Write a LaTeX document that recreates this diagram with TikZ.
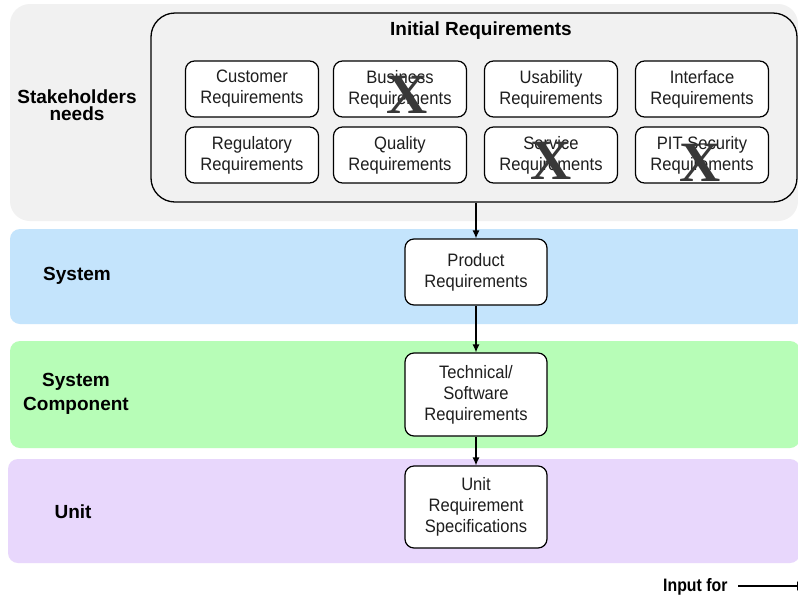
\documentclass[tikz,border=0pt]{standalone}
\usepackage{fontspec}
\setmainfont{Liberation Sans}
\newfontfamily\boxfont[FakeStretch=0.92]{Liberation Sans}
\newfontfamily\condfont[FakeStretch=0.88]{Liberation Sans}
\newfontfamily\xfont{Liberation Serif}
\usetikzlibrary{arrows.meta}
\definecolor{graybg}{HTML}{F1F1F1}
\definecolor{bluebg}{HTML}{C4E4FC}
\definecolor{greenbg}{HTML}{B7FDB7}
\definecolor{purplebg}{HTML}{E8D7FC}
\definecolor{xcol}{HTML}{383838}
\definecolor{textcol}{HTML}{1E1E1E}
\tikzset{
  reqbox/.style={draw=black, line width=1.2pt, rounded corners=9pt, fill=white,
    minimum width=133pt, minimum height=56pt, align=center, inner sep=0pt,
    text=textcol, font=\boxfont\fontsize{18}{21}\selectfont},
  midbox/.style={reqbox, minimum width=142pt},
  bandlabel/.style={align=center, font=\bfseries\fontsize{19}{17}\selectfont, text=black},
  crossmark/.style={text=xcol, inner sep=0pt, font=\xfont\bfseries\fontsize{57}{57}\selectfont},
  flow/.style={line width=1.2pt, -{Latex[length=8pt,width=7pt]}}
}
\begin{document}
\begin{tikzpicture}[x=1pt,y=-1pt]
\clip (0,0) rectangle (798,595);
\fill[white] (0,0) rectangle (798,595);
% bands
\fill[graybg, rounded corners=20pt] (10,4) rectangle (798,221);
\fill[bluebg, rounded corners=10pt] (10,229) rectangle (806,324);
\fill[greenbg, rounded corners=10pt] (10,341) rectangle (800,448);
\fill[purplebg, rounded corners=10pt] (8,459) rectangle (800,563);
% band labels
\node[bandlabel] (lstake) at (77,105) {Stakeholders\\needs};
\node[bandlabel] (lsys) at (77,276) {System};
\node[bandlabel, font=\bfseries\fontsize{19}{24}\selectfont] (lcomp) at (76,394) {System\\Component};
\node[bandlabel] (lunit) at (73,512) {Unit};
% initial requirements container
\node[draw=black, line width=1.3pt, rounded corners=24pt, minimum width=646pt,
      minimum height=189pt, inner sep=0pt] (init) at (474,107.5) {};
\node[font=\bfseries\fontsize{19}{19}\selectfont] (title) at (481,31) {Initial Requirements};
% requirement boxes
\node[reqbox] (cust) at (252,89) {Customer\\Requirements};
\node[reqbox] (bus) at (400,89) {Business\\Requirements};
\node[reqbox] (usa) at (551,89) {Usability\\Requirements};
\node[reqbox] (intf) at (702,89) {Interface\\Requirements};
\node[reqbox] (reg) at (252,155) {Regulatory\\Requirements};
\node[reqbox] (qual) at (400,155) {Quality\\Requirements};
\node[reqbox] (serv) at (551,155) {Service\\Requirements};
\node[reqbox] (pit) at (702,155) {PIT Security\\Requirements};
% crosses
\node[crossmark] (xbus) at (407,95) {X};
\node[crossmark] (xserv) at (551,161) {X};
\node[crossmark] (xpit) at (700,163) {X};
% central chain
\node[midbox, minimum height=66pt] (prod) at (476,272) {Product\\Requirements};
\node[midbox, minimum height=83pt] (tech) at (476,394.5) {Technical/\\Software\\Requirements};
\node[midbox, minimum height=82pt] (unitreq) at (476,507) {Unit\\Requirement\\Specifications};
\draw[flow] (init.south -| prod.north) -- (prod.north);
\draw[flow] (prod.south) -- (tech.north);
\draw[flow] (tech.south) -- (unitreq.north);
% legend
\node[anchor=base west, inner sep=0pt, font=\condfont\bfseries\fontsize{18}{18}\selectfont] (leg) at (663,591) {Input for};
\coordinate (lstart) at (738,586);
\coordinate (lend) at (805,586);
\draw[line width=1.2pt, -{Latex[length=8pt,width=10pt]}] (lstart) -- (lend);
\end{tikzpicture}
\end{document}
